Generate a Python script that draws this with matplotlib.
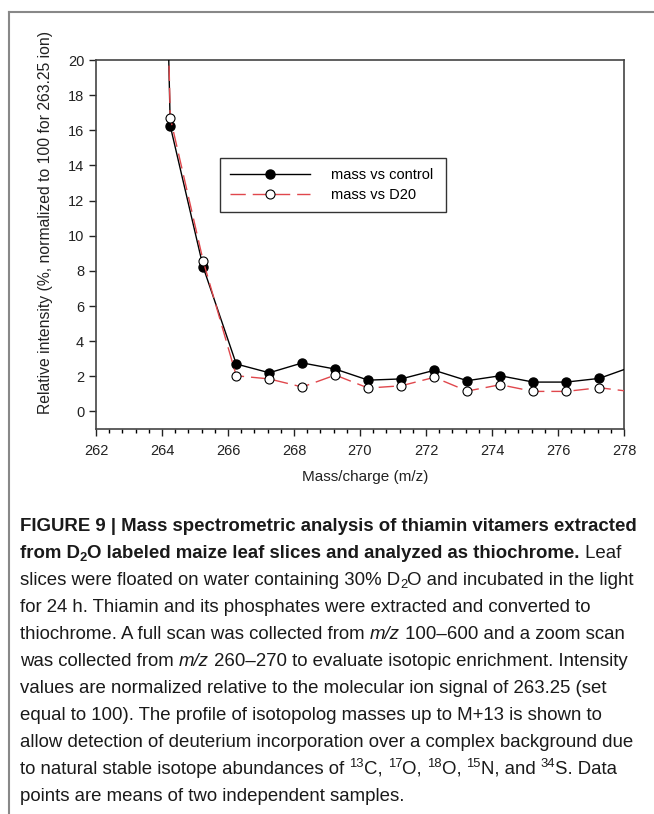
import numpy as np
import matplotlib
matplotlib.use("Agg")
import matplotlib.pyplot as plt
from matplotlib.lines import Line2D
from matplotlib.font_manager import FontProperties
from matplotlib.ticker import MultipleLocator

# data (relative intensity, %)
mz = [263.25, 264.25, 265.25, 266.25, 267.25, 268.25, 269.25, 270.25,
      271.25, 272.25, 273.25, 274.25, 275.25, 276.25, 277.25, 278.25]
control = [100, 16.25, 8.2, 2.7, 2.2, 2.76, 2.41, 1.78,
           1.85, 2.34, 1.75, 2.03, 1.67, 1.67, 1.88, 2.55]
d2o = [100, 16.72, 8.55, 2.03, 1.85, 1.39, 2.07, 1.33,
       1.46, 1.94, 1.16, 1.52, 1.14, 1.14, 1.35, 1.12]
labels = ["mass vs control", "mass vs D20"]
xticks = np.arange(262, 279, 2)
yticks = np.arange(0, 21, 2)

W, H = 654, 814
fig = plt.figure(figsize=(W / 100, H / 100), dpi=100)
plt.rcParams['font.family'] = ['Liberation Sans', 'DejaVu Sans']

ax = fig.add_axes([96 / W, 1 - 429 / H, 528 / W, 369 / H])
ax.plot(mz, control, color='black', lw=1.0, marker='o', ms=6.5,
        mfc='black', mec='black', label=labels[0], zorder=3)
ax.plot(mz, d2o, color='#e0474c', lw=1.0, dashes=(11, 5), marker='o', ms=6.5,
        mfc='white', mec='black', mew=0.8, label=labels[1], zorder=4)
ax.set_xlim(262, 278)
ax.set_ylim(-1, 20)
ax.set_xticks(xticks)
ax.set_yticks(yticks)
ax.xaxis.set_minor_locator(MultipleLocator(0.4))
ax.tick_params(which='major', direction='out', length=5, width=1, labelsize=10.5,
               colors='#222222')
ax.tick_params(which='minor', direction='out', length=3, width=1)
ax.tick_params(axis='x', pad=6)
for s in ax.spines.values():
    s.set_color('#444444')
    s.set_linewidth(1.2)
ax.set_xlabel("Mass/charge (m/z)", fontsize=11, color='#222222')
ax.set_ylabel("Relative intensity (%, normalized to 100 for 263.25 ion)",
              fontsize=11.3, color='#222222')
ax.xaxis.set_label_coords(0.51, -0.112)
ax.yaxis.set_label_coords(-0.082, 0.56)
leg = ax.legend(loc='upper left', bbox_to_anchor=(0.235, 0.583, 0.428, 0.151),
                mode='expand', borderaxespad=0, fontsize=10.5,
                handlelength=5.5, fancybox=False, edgecolor='black',
                borderpad=0.7, handletextpad=1.4, labelspacing=0.37)
leg.get_frame().set_linewidth(1.0)

# page frame lines
fig.add_artist(Line2D([9 / W, 653 / W], [1 - 12 / H, 1 - 12 / H],
                      transform=fig.transFigure, color='#888888', lw=1.5))
fig.add_artist(Line2D([9 / W, 9 / W], [0, 1 - 12 / H],
                      transform=fig.transFigure, color='#888888', lw=1.5))

# caption
cap_font = ['Liberation Sans Narrow', 'Liberation Sans']
cap_size = 13.4
renderer = fig.canvas.get_renderer()


def seg_width(s, prop):
    w1, _, _ = renderer.get_text_width_height_descent("|" + s + "|", prop, ismath=False)
    w0, _, _ = renderer.get_text_width_height_descent("||", prop, ismath=False)
    return w1 - w0


def draw_line(y, parts):
    x = 20.0
    for txt, st in parts:
        bold = 'b' in st
        ital = 'i' in st
        size = cap_size * (0.7 if ('^' in st or '_' in st) else 1.0)
        dy = 7 if '^' in st else (-3 if '_' in st else 0)
        prop = FontProperties(family=cap_font, size=size,
                              weight='bold' if bold else 'normal',
                              style='italic' if ital else 'normal')
        fig.text(x / W, 1 - (y - dy) / H, txt, fontproperties=prop,
                 color='#1a1a1a', va='baseline', ha='left')
        x += seg_width(txt, prop)


lines = [
    [("FIGURE 9 | Mass spectrometric analysis of thiamin vitamers extracted", 'b')],
    [("from D", 'b'), ("2", 'b_'), ("O labeled maize leaf slices and analyzed as thiochrome.", 'b'),
     (" Leaf", '')],
    [("slices were floated on water containing 30% D", ''), ("2", '_'),
     ("O and incubated in the light", '')],
    [("for 24 h. Thiamin and its phosphates were extracted and converted to", '')],
    [("thiochrome. A full scan was collected from ", ''), ("m/z", 'i'),
     (" 100\u2013600 and a zoom scan", '')],
    [("was collected from ", ''), ("m/z", 'i'),
     (" 260\u2013270 to evaluate isotopic enrichment. Intensity", '')],
    [("values are normalized relative to the molecular ion signal of 263.25 (set", '')],
    [("equal to 100). The profile of isotopolog masses up to M+13 is shown to", '')],
    [("allow detection of deuterium incorporation over a complex background due", '')],
    [("to natural stable isotope abundances of ", ''), ("13", '^'), ("C, ", ''),
     ("17", '^'), ("O, ", ''), ("18", '^'), ("O, ", ''), ("15", '^'), ("N, and ", ''),
     ("34", '^'), ("S. Data", '')],
    [("points are means of two independent samples.", '')],
]
for i, parts in enumerate(lines):
    draw_line(531 + 27 * i, parts)

fig.savefig("out.png", dpi=100)
